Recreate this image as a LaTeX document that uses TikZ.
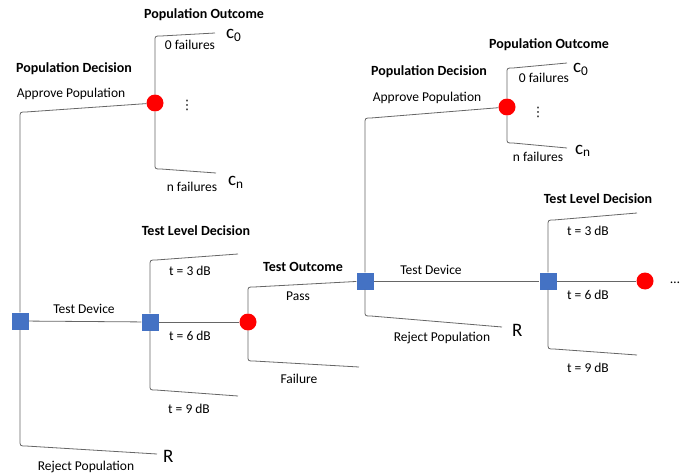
\documentclass[tikz,border=0pt]{standalone}
\usepackage{fontspec}
\setmainfont{Carlito}
\newfontfamily\symfont{DejaVu Sans}
\definecolor{boxblue}{HTML}{4472C4}
\begin{document}
\begin{tikzpicture}[
  x=1pt,y=-1pt,
  branch/.style={draw=black!60,line width=0.8pt},
  decision/.style={fill=boxblue,minimum size=17pt,inner sep=0pt},
  chance/.style={circle,fill=red,minimum size=17pt,inner sep=0pt},
  lbl/.style={font=\fontsize{13.5}{15}\selectfont,inner sep=0pt},
  head/.style={font=\fontsize{14}{16}\selectfont\bfseries,inner sep=0pt},
  vdot/.style={font=\fontsize{13}{13}\selectfont\symfont,inner sep=0pt},
  payoff/.style={font=\fontsize{19}{21}\selectfont,inner sep=0pt,anchor=base west}]
  \useasboundingbox (0,0) rectangle (680,476);

  \node[decision] (d1) at (20,321) {};
  \node[decision] (d2) at (150,322) {};
  \node[decision] (d3) at (365,281) {};
  \node[decision] (d4) at (548,281) {};
  \node[chance] (o1) at (155,103) {};
  \node[chance] (o2) at (248,322) {};
  \node[chance] (o3) at (507,107) {};
  \node[chance] (o4) at (645,281) {};

  \coordinate (r1) at (157,454);
  \coordinate (c0a) at (215,33);
  \coordinate (cna) at (216,173);
  \coordinate (t3a) at (238,254);
  \coordinate (t9a) at (238,396);
  \coordinate (fail) at (359,367);
  \coordinate (r2) at (502,327);
  \coordinate (c0b) at (567,63);
  \coordinate (cnb) at (567,148);
  \coordinate (t3b) at (637,213);
  \coordinate (t9b) at (637,355);

  \foreach \src/\x/\yv/\yc/\dst in {
    d1/20/118/112/o1,
    d1/20/440/446/r1,
    o1/155/41/36/c0a,
    o1/155/164/169/cna,
    d2/150/266/260/t3a,
    d2/150/385/390/t9a,
    o2/248/292/287/d3,
    o2/248/356/361/fail,
    d3/365/124/118/o3,
    d3/365/311/316/r2,
    o3/507/73/68/c0b,
    o3/507/138/143/cnb,
    d4/548/226/220/t3b,
    d4/548/343/349/t9b}
  {
    \draw[branch] (\src) -- (\x,\yv) .. controls (\x,\yc) .. (\x+6,\yc) -- (\dst);
  }
  \draw[branch] (d1) -- (d2);
  \draw[branch] (d2) -- (o2);
  \draw[branch] (d3) -- (d4);
  \draw[branch] (d4) -- (o4);

  \node[head] (popdec1) at (74,69) {Population Decision};
  \node[lbl] (approve1) at (71,94) {Approve Population};
  \node[lbl] (testdev1) at (84,309) {Test Device};
  \node[lbl] (reject1) at (86,467) {Reject Population};
  \node[payoff] (pay1) at (163,462) {R};
  \node[head] (popout1) at (204,15) {Population Outcome};
  \node[lbl] (zero1) at (190,45) {0 failures};
  \node[vdot] (dots1) at (187,105) {⋮};
  \node[lbl] (nfail1) at (192,187) {n failures};
  \node[payoff] (cz1) at (226,38.5) {c\textsubscript{0}};
  \node[payoff] (cn1) at (228,185.5) {c\textsubscript{n}};

  \node[head] (tld1) at (196,231) {Test Level Decision};
  \node[lbl] (tthree1) at (190,271) {t = 3 dB};
  \node[lbl] (tsix1) at (190,336) {t = 6 dB};
  \node[lbl] (tnine1) at (189,409) {t = 9 dB};

  \node[head] (tout) at (303,267) {Test Outcome};
  \node[lbl] (pass) at (298,296) {Pass};
  \node[lbl] (failure) at (299,379) {Failure};

  \node[head] (popdec2) at (429,72) {Population Decision};
  \node[lbl] (approve2) at (427,98) {Approve Population};
  \node[lbl] (testdev2) at (431,270) {Test Device};
  \node[lbl] (reject2) at (442,338) {Reject Population};
  \node[payoff] (pay2) at (512,336) {R};
  \node[head] (popout2) at (549,45) {Population Outcome};
  \node[lbl] (zero2) at (544,78) {0 failures};
  \node[vdot] (dots2) at (538,112) {⋮};
  \node[lbl] (nfail2) at (538,157) {n failures};
  \node[payoff] (cz2) at (573,73) {c\textsubscript{0}};
  \node[payoff] (cn2) at (575,154) {c\textsubscript{n}};

  \node[head] (tld2) at (598,199) {Test Level Decision};
  \node[lbl] (tthree2) at (588,231) {t = 3 dB};
  \node[lbl] (tsix2) at (588,295) {t = 6 dB};
  \node[lbl] (tnine2) at (588,368) {t = 9 dB};
  \node[lbl] (more) at (675,283) {\dots};
\end{tikzpicture}
\end{document}
